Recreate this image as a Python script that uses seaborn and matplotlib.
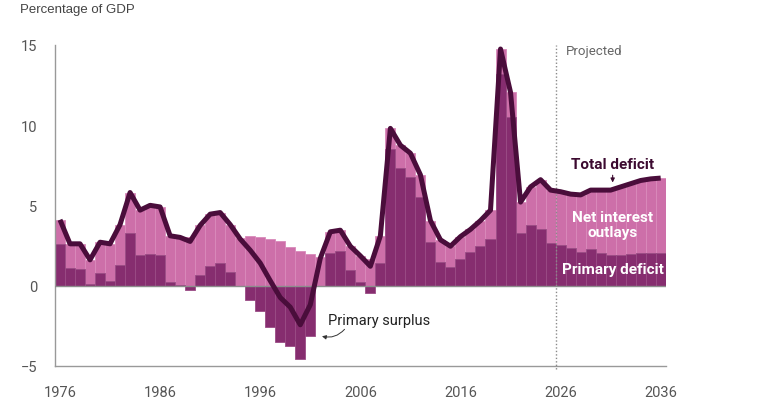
import numpy as np
import matplotlib
matplotlib.use("Agg")
import matplotlib.pyplot as plt
import seaborn as sns

# ── data (percent of GDP) ──
years = list(range(1976, 2037))

primary_deficit = [
    2.6, 1.1, 1.0, 0.1, 0.75, 0.3, 1.3, 3.3, 1.9, 1.95,
    1.9, 0.2, 0.05, -0.3, 0.65, 1.2, 1.4, 0.85, -0.05, -0.9,
    -1.6, -2.6, -3.5, -3.75, -4.6, -3.15, -0.05, 2.0, 2.15, 0.95,
    0.2, -0.45, 1.4, 8.5, 7.35, 6.75, 5.5, 2.7, 1.45, 1.15,
    1.65, 2.1, 2.45, 2.9, 13.2, 10.5, 3.3, 3.75, 3.55, 2.65,
    2.55, 2.35, 2.1, 2.3, 2.05, 1.9, 1.9, 1.95, 2.0, 2.05, 2.05,
]

net_interest = [
    1.5, 1.5, 1.6, 1.5, 1.95, 2.3, 2.5, 2.5, 2.8, 3.05,
    3.0, 2.9, 2.95, 3.05, 3.1, 3.25, 3.15, 2.95, 2.95, 3.1,
    3.0, 2.9, 2.75, 2.4, 2.15, 1.95, 1.75, 1.35, 1.3, 1.5,
    1.65, 1.65, 1.7, 1.3, 1.4, 1.5, 1.4, 1.35, 1.4, 1.3,
    1.4, 1.4, 1.6, 1.8, 1.55, 1.55, 1.9, 2.4, 3.05, 3.3,
    3.3, 3.35, 3.55, 3.65, 3.9, 4.05, 4.25, 4.4, 4.55, 4.6, 4.65,
]

x_ticks = [1976, 1986, 1996, 2006, 2016, 2026, 2036]
y_ticks = [-5, 0, 5, 10, 15]
projection_start = 2025.5

primary = np.array(primary_deficit)
interest = np.array(net_interest)
total_deficit = primary + interest
# interest sits on top of a primary deficit, or starts at zero in surplus years
interest_top = np.maximum(primary, 0) + interest

LIGHT = "#cd6fa9"
DARK = "#862d6f"
LINE = "#4a0d3b"
GREY = "#555555"

sns.set_style("white")
plt.rcParams["font.family"] = ["Roboto", "DejaVu Sans"]

fig = plt.figure(figsize=(7.82, 4.14), dpi=100)
ax = fig.add_axes([0.0703, 0.1143, 0.781, 0.7746])

sns.barplot(x=years, y=interest_top, native_scale=True, width=1.0,
            color=LIGHT, saturation=1, edgecolor="#d98abb", linewidth=0.6,
            ax=ax, zorder=1)
sns.barplot(x=years, y=primary, native_scale=True, width=1.0,
            color=DARK, saturation=1, edgecolor="#9a4c85", linewidth=0.6,
            ax=ax, zorder=2)

ax.axhline(0, color="#8c8c8c", lw=1.0, zorder=3)
ax.axvline(projection_start, ymin=-0.01, ymax=1.0, color="#8a8a8a",
           lw=1.0, ls=(0, (1, 1.5)), zorder=3, clip_on=False)

sns.lineplot(x=years, y=total_deficit, color=LINE, lw=3.6, ax=ax, zorder=5,
             solid_joinstyle="round", solid_capstyle="butt")

ax.set_xlim(1975.5, 2036.5)
ax.set_ylim(-5, 15)
ax.set_xticks(x_ticks)
ax.set_yticks(y_ticks)
ax.tick_params(axis="both", direction="in", length=4, width=1, color="#999999",
               labelsize=10.5, labelcolor=GREY)
ax.tick_params(axis="x", pad=14)
ax.tick_params(axis="y", pad=13)
for side in ["top", "right"]:
    ax.spines[side].set_visible(False)
for side in ["left", "bottom"]:
    ax.spines[side].set_color("#999999")
    ax.spines[side].set_linewidth(1.0)
ax.set_xlabel("")
ax.set_ylabel("")

fig.text(20 / 782, 1 - 10 / 414, "Percentage of GDP", ha="left", va="center",
         fontsize=9.5, color="#444444", family=["Liberation Sans", "DejaVu Sans"])

ax.text(2026.5, 14.67, "Projected", ha="left", va="center",
        fontsize=9.5, color="#666666")

label_font = ["Roboto", "DejaVu Sans"]
ax.text(2031.2, 7.56, "Total deficit", ha="center", va="center", fontsize=11,
        fontweight="bold", color="#3c0a30", family=label_font)
ax.annotate("", xy=(2031.2, 6.25), xytext=(2031.2, 7.05),
            arrowprops=dict(arrowstyle="-|>", color="#3c0a30", lw=0.8,
                            mutation_scale=6))
ax.text(2031.2, 3.8, "Net interest\noutlays", ha="center", va="center",
        fontsize=11, fontweight="bold", color="white", linespacing=1.05,
        family=label_font)
ax.text(2031.2, 1.0, "Primary deficit", ha="center", va="center", fontsize=11,
        fontweight="bold", color="white", family=label_font)

ax.text(2002.8, -2.12, "Primary surplus", ha="left", va="center", fontsize=10.5,
        color="#222222", family=label_font)
ax.annotate("", xy=(2001.9, -3.12), xytext=(2004.6, -2.6),
            arrowprops=dict(arrowstyle="-|>", color="#333333", lw=0.7,
                            mutation_scale=6,
                            connectionstyle="arc3,rad=-0.35"))

fig.savefig("out.png", dpi=100)
plt.close(fig)
